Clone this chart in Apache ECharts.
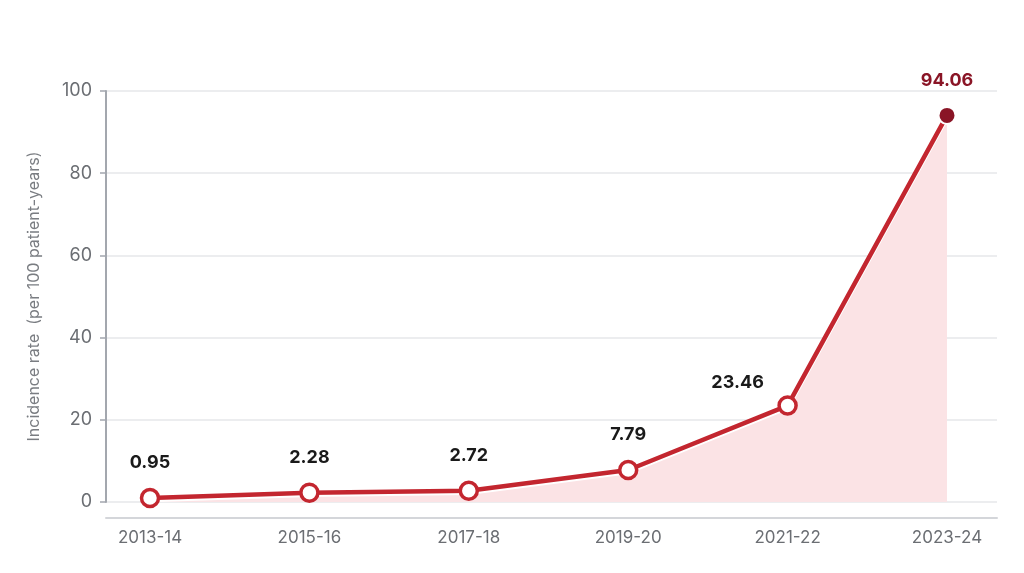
<!DOCTYPE html>
<html>
<head>
<meta charset="utf-8">
<title>Incidence rate</title>
<script src="https://cdn.jsdelivr.net/npm/echarts@6/dist/echarts.min.js"></script>
<style>
    html, body { margin: 0; padding: 0; background: #fff; }
    #main { width: 1024px; height: 573px; }
</style>
</head>
<body>
<div id="main"></div>
<script>
    var periods = ['2013-14', '2015-16', '2017-18', '2019-20', '2021-22', '2023-24'];
    var rates = [0.95, 2.28, 2.72, 7.79, 23.46, 94.06];
    var yTicks = [0, 20, 40, 60, 80, 100];

    var red = '#c3262f';
    var darkRed = '#8a1526';
    var font = 'Inter, "Noto Sans", sans-serif';

    var lastIdx = rates.length - 1;
    var points = rates.map(function (v, i) {
        var p = { value: v };
        if (i === lastIdx) {
            // latest period: solid dark dot
            p.symbolSize = 17;
            p.itemStyle = { color: darkRed, borderColor: '#fff', borderWidth: 2 };
            p.label = { color: darkRed, distance: 16 };
        }
        if (i === 4) {
            p.label = { offset: [-50, 12] };
        }
        return p;
    });

    var chart = echarts.init(document.getElementById('main'));
    var option = {
        animation: false,
        textStyle: { fontFamily: font },
        grid: [
            // frame: y axis, split lines, bottom axis line
            { left: 106, right: 27, top: 91, bottom: 71 },
            // plotting area where the points live
            { left: 150, right: 77, top: 91, bottom: 71 }
        ],
        xAxis: [{
            gridIndex: 0,
            type: 'value',
            min: 0,
            max: 1,
            offset: 16,
            axisLine: { show: true, onZero: false, lineStyle: { color: '#d4d6da', width: 2 } },
            axisTick: { show: false },
            axisLabel: { show: false },
            splitLine: { show: false }
        }, {
            gridIndex: 1,
            type: 'category',
            boundaryGap: false,
            data: periods,
            axisLine: { show: false },
            axisTick: { show: false },
            splitLine: { show: false },
            axisLabel: {
                margin: 27,
                color: '#6b6e73',
                fontSize: 17,
                fontFamily: font
            }
        }],
        yAxis: [{
            gridIndex: 0,
            type: 'value',
            min: yTicks[0],
            max: yTicks[yTicks.length - 1],
            interval: yTicks[1] - yTicks[0],
            name: 'Incidence rate  (per 100 patient-years)',
            nameLocation: 'middle',
            nameGap: 64,
            nameTextStyle: { color: '#7a7d82', fontSize: 16, fontFamily: font },
            axisLine: { show: true, lineStyle: { color: '#a3a7ae', width: 2 } },
            axisTick: { show: true, length: 6, lineStyle: { color: '#a3a7ae', width: 1.5 } },
            axisLabel: { margin: 14, color: '#6b6e73', fontSize: 18, fontFamily: font },
            splitLine: { show: true, lineStyle: { color: '#e6e7ea', width: 1.5 } }
        }, {
            gridIndex: 1,
            type: 'value',
            min: yTicks[0],
            max: yTicks[yTicks.length - 1],
            show: false
        }],
        series: [{
            type: 'line',
            xAxisIndex: 1,
            yAxisIndex: 1,
            data: points,
            symbol: 'circle',
            symbolSize: 17,
            showAllSymbol: true,
            lineStyle: {
                color: red,
                width: 4.5,
                shadowColor: 'rgba(255,255,255,1)',
                shadowBlur: 0,
                shadowOffsetY: 2
            },
            itemStyle: { color: '#fff', borderColor: red, borderWidth: 3.5 },
            areaStyle: { color: '#fbe3e5', opacity: 1 },
            label: {
                show: true,
                position: 'top',
                distance: 16,
                color: '#1a1a1a',
                fontSize: 18,
                fontWeight: 'bold',
                fontFamily: font
            },
            z: 3
        }]
    };
    chart.setOption(option);
</script>
</body>
</html>
